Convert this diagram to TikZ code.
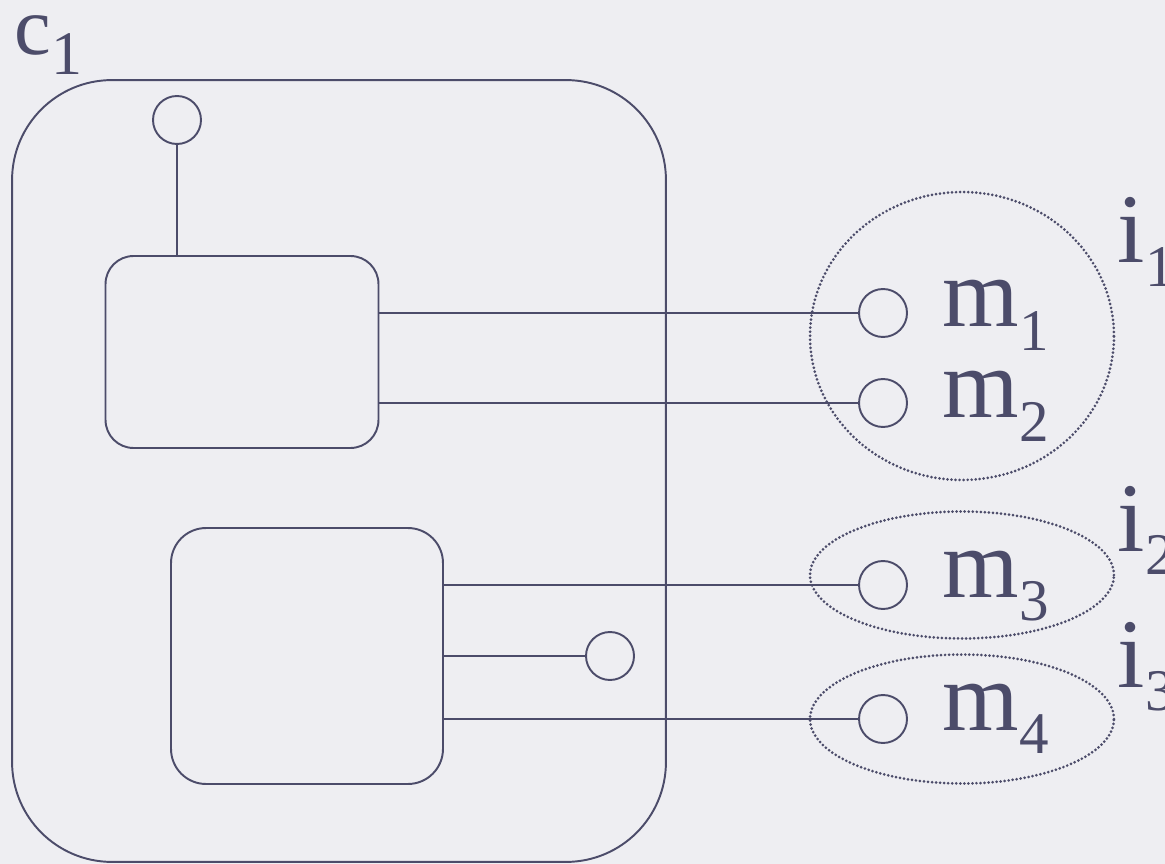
\documentclass[tikz,border=0pt]{standalone}
\usepackage{fontspec}
\setmainfont{Liberation Serif}
\usetikzlibrary{shapes.geometric}

\definecolor{ink}{HTML}{4C4C6A}
\definecolor{paper}{HTML}{EEEEF2}
\newcommand{\subs}[2][0.6]{\raisebox{-0.24em}{\scalebox{#1}{#2}}}

\begin{document}
\begin{tikzpicture}[
        x=0.02cm, y=-0.02cm,
        color=ink,
        line width=1.1pt,
        every node/.style={draw, inner sep=0pt},
        port/.style={circle, minimum size=0.96cm},
        part/.style={rectangle},
        iface/.style={ellipse, line width=1.7pt, line cap=round, dash pattern=on 0pt off 2.3pt},
        lbl/.style={draw=none, anchor=base west, font=\fontsize{56}{60}\selectfont}
    ]
 \useasboundingbox (0,0) rectangle (1165,864);
 \fill[paper] (0,0) rectangle (1165,864);

 % component and its two parts
 \node[part, rounded corners=2cm, minimum width=13.08cm, minimum height=15.64cm] (comp) at (339,471) {};
 \node[part, rounded corners=0.56cm, minimum width=5.46cm, minimum height=3.84cm] (part1) at (242,352) {};
 \node[part, rounded corners=0.7cm, minimum width=5.44cm, minimum height=5.12cm] (part2) at (307,656) {};

 % ports
 \node[port] (top) at (177,120) {};
 \node[port] (loc) at (610,656) {};
 \node[port] (p1) at (883,313) {};
 \node[port] (p2) at (883,403) {};
 \node[port] (p3) at (883,585) {};
 \node[port] (p4) at (883,719) {};

 \draw (top) -- (top |- part1.north);
 \draw (p1) -- (p1 -| part1.east);
 \draw (p2) -- (p2 -| part1.east);
 \draw (p3) -- (p3 -| part2.east);
 \draw (loc) -- (loc -| part2.east);
 \draw (p4) -- (p4 -| part2.east);

 % interfaces
 \node[iface, minimum width=6.08cm, minimum height=5.76cm] (i1) at (962,336) {};
 \node[iface, minimum width=6.08cm, minimum height=2.54cm] (i2) at (962,575) {};
 \node[iface, minimum width=6.08cm, minimum height=2.58cm] (i3) at (962,719) {};

 % labels
 \node[lbl, font=\fontsize{47}{50}\selectfont] (c1) at (14,55) {c\subs[0.75]{1}};
 \node[lbl] (m1) at (942,327) {m\subs{1}};
 \node[lbl] (m2) at (942,418) {m\subs{2}};
 \node[lbl] (m3) at (942,597) {m\subs{3}};
 \node[lbl] (m4) at (942,730) {m\subs{4}};
 \node[lbl] (l1) at (1117,263) {i\subs{1}};
 \node[lbl] (l2) at (1117,551) {i\subs{2}};
 \node[lbl] (l3) at (1117,687) {i\subs{3}};
\end{tikzpicture}
\end{document}
